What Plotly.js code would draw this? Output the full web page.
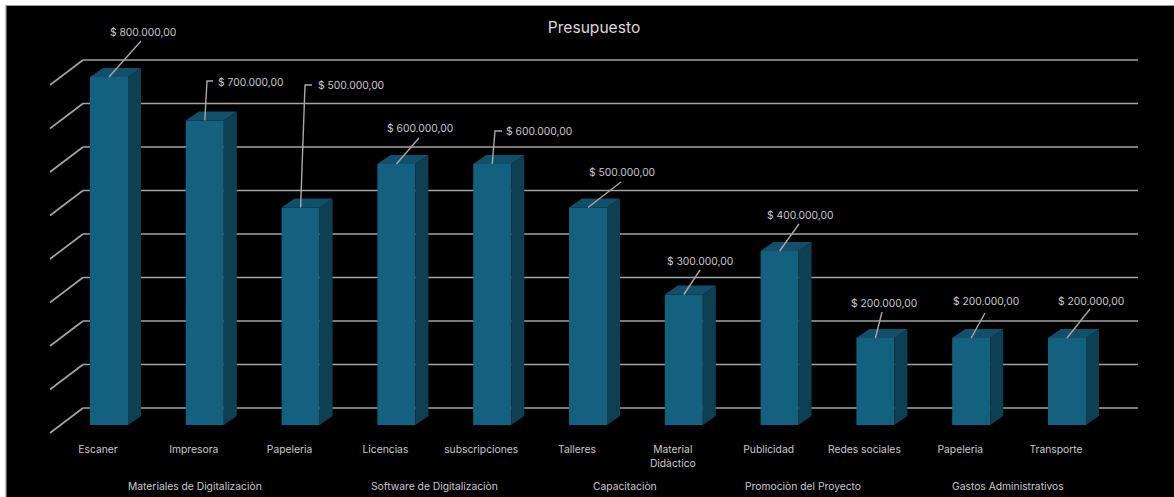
<!DOCTYPE html>
<html>
<head>
<meta charset="utf-8">
<script src="https://cdn.plot.ly/plotly-3.0.1.min.js"></script>
<style>html,body{margin:0;padding:0;background:#fff}#chart{width:1174px;height:497px}</style>
</head>
<body>
<div id="chart"></div>
<script>
// ---- data ----
const chartTitle = "Presupuesto";
const categories = ["Escaner","Impresora","Papeleria","Licencias","subscripciones","Talleres","Material<br>Didàctico","Publicidad","Redes sociales","Papeleria","Transporte"];
const values = [800000,700000,500000,600000,600000,500000,300000,400000,200000,200000,200000];
const groups = ["Materiales de Digitalizaciòn","Software de Digitalizaciòn","Capacitaciòn","Promociòn del Proyecto","Gastos Administrativos"];
const gridValues = [0,100000,200000,300000,400000,500000,600000,700000,800000];

// ---- layout geometry (pixels of the picture) ----
const W = 1174, H = 497;
const plot = {l:83, r:1138, t:20, b:433};
const barX0 = 109, slot = 95.8, pxPerUnit = 43.5/100000;
const baseBar = 425, baseGrid = 408;
const px2x = p => (p - barX0)/slot;
const barW = 38/slot, depthX = 13/slot, depthY = 9/pxPerUnit;
const stubX = 33, stubY = 25;
const labelShift = -11/slot;
const groupPx = [195,434,625,803,1008];
const groupYpx = 486;
const labelPx = [[143,32],[251,82],[350.5,85],[420,128],[539,131],[622,172],[700,261],[800,215],[884,303],[986,301],[1091,301]];
// leader end relative to bar top centre; elbows add a short horizontal stub
const leaderPx = [
  [[141,41]],[[207,81],[213,81]],[[305,85],[312,85]],[[419,138]],[[495,131],[502,131]],
  [[621,182]],[[700,270]],[[799,224]],[[882,312]],[[985,313]],[[1090,309]]
];

const idx = categories.map((_,i)=>i);
const fmt = v => "$ " + String(v).replace(/\B(?=(\d{3})+$)/g,".") + ",00";
const barTopPx = v => baseBar - v*pxPerUnit;

const FONT = "Inter, 'Noto Sans', sans-serif";
const TXT = "#c9c9c9", GRID = "#a3a3a3", GRIDW = 1.7;

// back-wall gridlines, side and top faces built from the values
const gridX=[], gridY=[], sideX=[], sideY=[], topX=[], topY=[];
gridValues.forEach(v=>{ gridX.push(px2x(plot.l),px2x(plot.r),null); gridY.push(v,v,null); });
idx.forEach(i=>{
  const a=i-barW/2, b=i+barW/2, v=values[i];
  sideX.push(b,b+depthX,b+depthX,b,b,null);
  sideY.push(0,depthY,v+depthY,v,0,null);
  topX.push(a,b,b+depthX,a+depthX,a,null);
  topY.push(v,v,v+depthY,v+depthY,v,null);
});

const traces = [
  {type:"scatter",mode:"lines",x:gridX,y:gridY,yaxis:"y",line:{color:GRID,width:GRIDW},hoverinfo:"skip",showlegend:false},
  {type:"bar",x:idx,y:values,width:barW,yaxis:"y2",opacity:1,marker:{color:"#14607f",opacity:1,line:{width:0}},showlegend:false,hoverinfo:"x+y"},
  {type:"scatter",mode:"lines",x:sideX,y:sideY,yaxis:"y2",fill:"toself",fillcolor:"rgb(14,64,84)",line:{width:0},hoverinfo:"skip",showlegend:false},
  {type:"scatter",mode:"lines",x:topX,y:topY,yaxis:"y2",fill:"toself",fillcolor:"rgb(18,79,106)",line:{width:0},hoverinfo:"skip",showlegend:false}
];

const shapes = [
  {type:"rect",xref:"paper",yref:"paper",layer:"below",
   x0:(6-plot.l)/(plot.r-plot.l),x1:(W+20-plot.l)/(plot.r-plot.l),
   y0:(plot.b-H-20)/(plot.b-plot.t),y1:(plot.b-5.5)/(plot.b-plot.t),
   fillcolor:"#000",line:{color:"#9a9a9a",width:1.2}}
];
// side-wall stubs of the gridlines
gridValues.forEach(v=>{
  shapes.push({type:"line",xref:"paper",yref:"paper",layer:"above",
    x0:-stubX/(plot.r-plot.l),x1:0,
    y0:(plot.b-(baseGrid-v*pxPerUnit)-stubY)/(plot.b-plot.t),
    y1:(plot.b-(baseGrid-v*pxPerUnit))/(plot.b-plot.t),
    line:{color:GRID,width:GRIDW}});
});
// data-label leaders
idx.forEach(i=>{
  const ax = barX0+i*slot, ay = barTopPx(values[i]);
  const path = "M 0 0 " + leaderPx[i].map(p=>`L ${(p[0]-ax).toFixed(1)} ${(ay-p[1]).toFixed(1)}`).join(" ");
  shapes.push({type:"path",xref:"x",yref:"y2",xsizemode:"pixel",ysizemode:"pixel",
    xanchor:i,yanchor:values[i],path:path,line:{color:"#a8a8a8",width:1.4}});
});

const annotations = [];
idx.forEach(i=>{
  const ax = barX0+i*slot, ay = barTopPx(values[i]);
  annotations.push({xref:"x",yref:"y2",x:i,y:values[i],showarrow:false,
    xshift:labelPx[i][0]-ax,yshift:ay-labelPx[i][1],xanchor:"center",yanchor:"middle",
    text:fmt(values[i]),font:{family:FONT,size:10.3,color:TXT}});
});
groups.forEach((g,k)=>{
  annotations.push({xref:"x",yref:"paper",x:px2x(groupPx[k]),y:(plot.b-groupYpx)/(plot.b-plot.t),
    showarrow:false,xanchor:"center",yanchor:"middle",text:g,font:{family:FONT,size:10.3,color:TXT}});
});

const layout = {
  width:W,height:H,
  paper_bgcolor:"#fff",plot_bgcolor:"rgba(0,0,0,0)",
  margin:{l:plot.l,r:W-plot.r,t:plot.t,b:H-plot.b,pad:0},
  font:{family:FONT,color:TXT,size:10.3},
  title:{text:chartTitle,x:594/W,xref:"container",xanchor:"center",y:1-28/H,yref:"container",yanchor:"middle",
    font:{family:FONT,size:15.6,color:"#d9d9d9"}},
  showlegend:false,
  xaxis:{range:[px2x(plot.l),px2x(plot.r)],showgrid:false,zeroline:false,showline:false,ticks:"",
    tickmode:"array",tickvals:idx.map(i=>i+labelShift),ticktext:categories,tickangle:0,
    tickfont:{family:FONT,size:10.3,color:TXT},ticklabelstandoff:9,fixedrange:true},
  yaxis:{range:[(baseGrid-plot.b)/pxPerUnit,(baseGrid-plot.t)/pxPerUnit],
    showgrid:false,zeroline:false,showline:false,ticks:"",showticklabels:false,fixedrange:true},
  yaxis2:{overlaying:"y",range:[(baseBar-plot.b)/pxPerUnit,(baseBar-plot.t)/pxPerUnit],
    showgrid:false,zeroline:false,showline:false,ticks:"",showticklabels:false,fixedrange:true},
  shapes:shapes,annotations:annotations
};
Plotly.newPlot("chart",traces,layout,{displayModeBar:false,responsive:false});
</script>
</body>
</html>
